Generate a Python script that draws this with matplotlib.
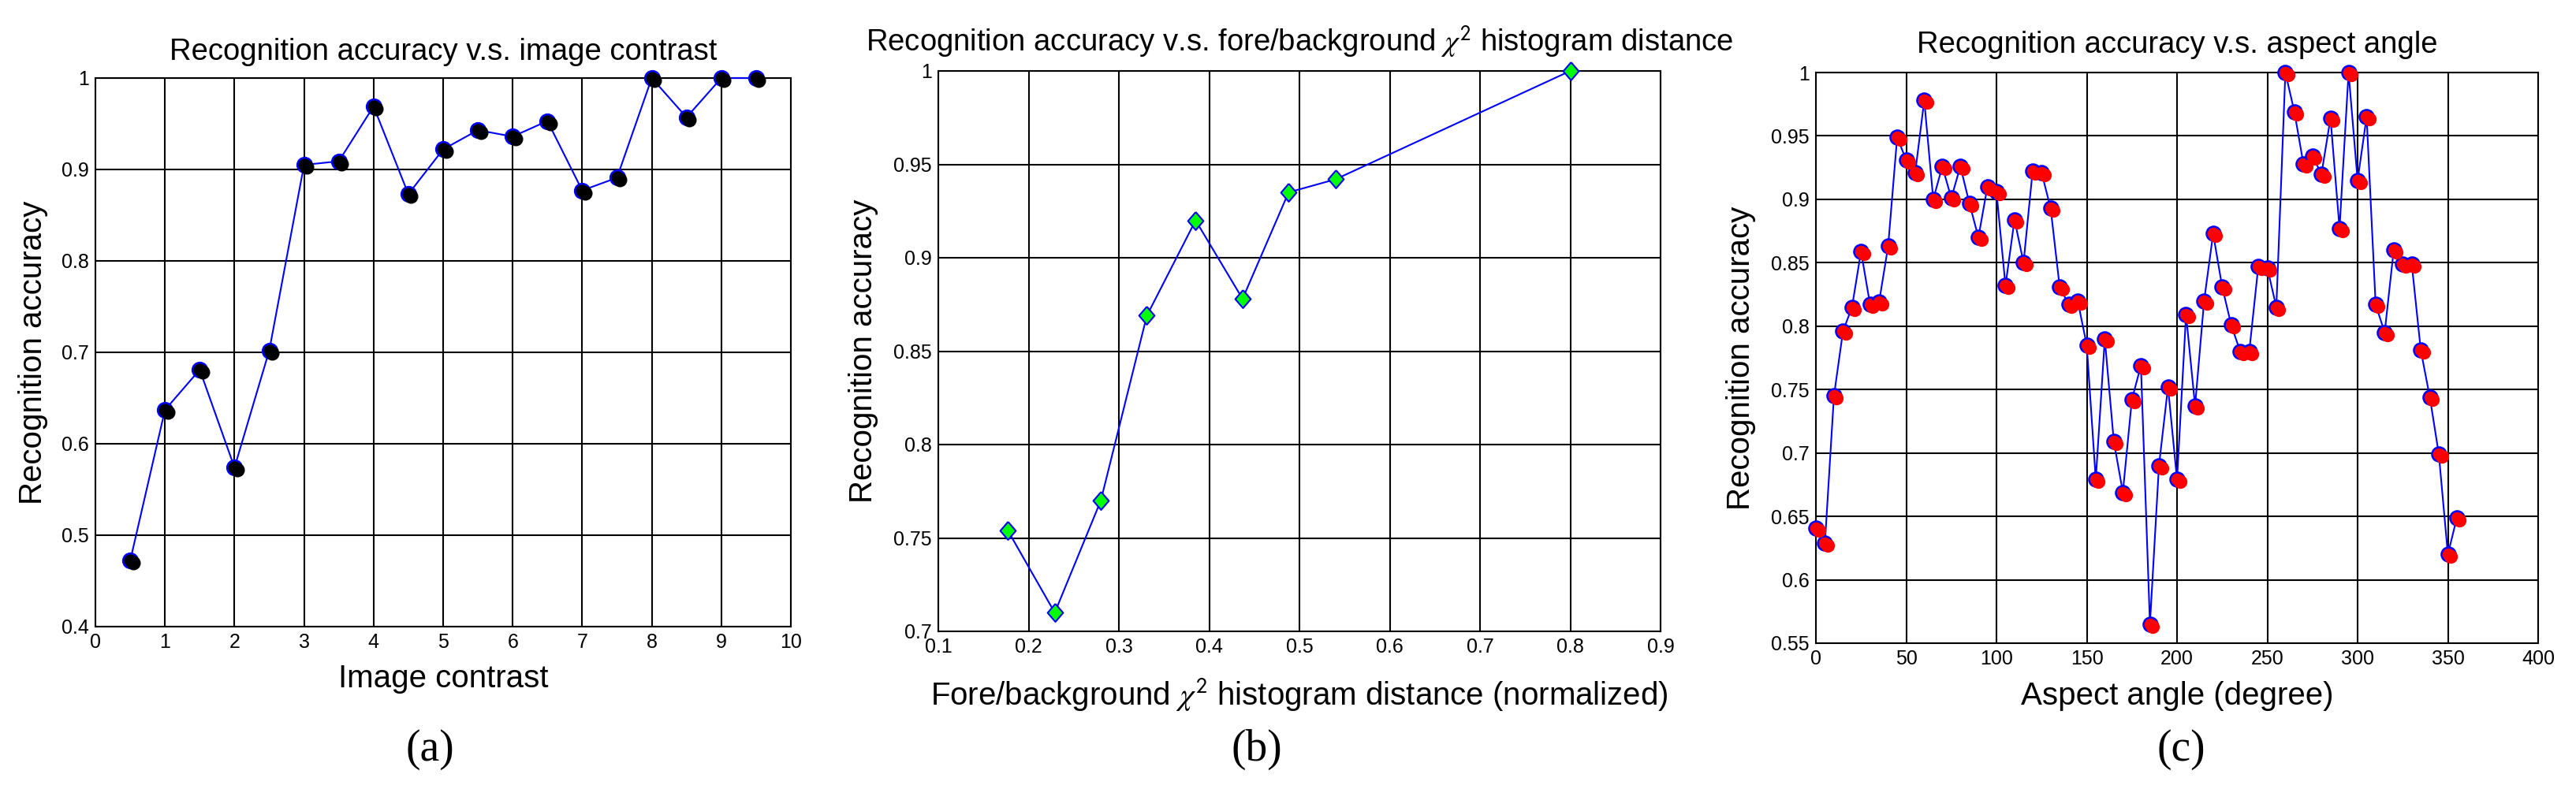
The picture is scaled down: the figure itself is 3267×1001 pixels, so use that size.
import matplotlib
matplotlib.use('Agg')
import matplotlib.pyplot as plt
from matplotlib.transforms import ScaledTranslation

plt.rcParams['font.family'] = ['Liberation Sans', 'DejaVu Sans']
plt.rcParams['mathtext.fontset'] = 'stix'

# ---------------- data ----------------
contrast_x = [0.5, 1.0, 1.5, 2.0, 2.5, 3.0, 3.5, 4.0, 4.5, 5.0,
              5.5, 6.0, 6.5, 7.0, 7.5, 8.0, 8.5, 9.0, 9.5]
contrast_acc = [0.472, 0.637, 0.681, 0.574, 0.702, 0.905, 0.909, 0.969, 0.873, 0.922,
                0.943, 0.936, 0.953, 0.877, 0.891, 1.000, 0.957, 1.000, 1.000]

hist_dist = [0.177, 0.229, 0.280, 0.331, 0.385, 0.437, 0.488, 0.540, 0.800]
hist_acc = [0.754, 0.710, 0.770, 0.869, 0.920, 0.878, 0.935, 0.942, 1.000]

angle_deg = [0, 5, 10, 15, 20, 25, 30, 35, 40, 45,
             50, 55, 60, 65, 70, 75, 80, 85, 90, 95,
             100, 105, 110, 115, 120, 125, 130, 135, 140, 145,
             150, 155, 160, 165, 170, 175, 180, 185, 190, 195,
             200, 205, 210, 215, 220, 225, 230, 235, 240, 245,
             250, 255, 260, 265, 270, 275, 280, 285, 290, 295,
             300, 305, 310, 315, 320, 325, 330, 335, 340, 345,
             350, 355]
angle_acc = [0.641, 0.629, 0.745, 0.796, 0.815, 0.859, 0.817, 0.819, 0.863, 0.949,
             0.931, 0.921, 0.978, 0.900, 0.926, 0.901, 0.926, 0.897, 0.870, 0.910,
             0.906, 0.832, 0.884, 0.850, 0.922, 0.921, 0.893, 0.831, 0.817, 0.820,
             0.785, 0.679, 0.790, 0.709, 0.669, 0.742, 0.769, 0.565, 0.690, 0.752,
             0.679, 0.809, 0.737, 0.820, 0.873, 0.831, 0.801, 0.780, 0.780, 0.847,
             0.846, 0.815, 1.000, 0.969, 0.928, 0.934, 0.920, 0.964, 0.877, 1.000,
             0.915, 0.965, 0.817, 0.795, 0.860, 0.849, 0.849, 0.781, 0.744, 0.699,
             0.620, 0.649]

a_xticks = [0, 1, 2, 3, 4, 5, 6, 7, 8, 9, 10]
a_yticks = [0.4, 0.5, 0.6, 0.7, 0.8, 0.9, 1.0]
a_ylabels = ['0.4', '0.5', '0.6', '0.7', '0.8', '0.9', '1']

b_xticks = [0.1, 0.2, 0.3, 0.4, 0.5, 0.6, 0.7, 0.8, 0.9]
b_xlabels = ['0.1', '0.2', '0.3', '0.4', '0.5', '0.6', '0.7', '0.8', '0.9']
b_yticks = [0.7, 0.75, 0.8, 0.85, 0.9, 0.95, 1.0]
b_ylabels = ['0.7', '0.75', '0.8', '0.85', '0.9', '0.95', '1']

c_xticks = [0, 50, 100, 150, 200, 250, 300, 350, 400]
c_yticks = [0.55, 0.6, 0.65, 0.7, 0.75, 0.8, 0.85, 0.9, 0.95, 1.0]
c_ylabels = ['0.55', '0.6', '0.65', '0.7', '0.75', '0.8', '0.85', '0.9', '0.95', '1']

# ---------------- figure ----------------
W, H = 3267, 1001
fig = plt.figure(figsize=(W / 100, H / 100), dpi=100)


def rect(l, t, r, b):
    return [l / W, (H - b) / H, (r - l) / W, (b - t) / H]


axA = fig.add_axes(rect(121, 99, 1003, 795))
axB = fig.add_axes(rect(1190, 90, 2106, 801))
axC = fig.add_axes(rect(2303, 92, 3219, 816))

TICK_FS = 18
LAB_FS = 29
TIT_FS = 27.5
shadow = ScaledTranslation(3.5 / 100, -3 / 100, fig.dpi_scale_trans)

for ax in (axA, axB, axC):
    ax.grid(True, color='black', linewidth=1.5, linestyle='-')
    ax.set_axisbelow(True)
    ax.tick_params(direction='in', length=0, pad=6, labelsize=TICK_FS, colors='black')
    for s in ax.spines.values():
        s.set_linewidth(1.5)
        s.set_color('black')

# ---- (a) ----
axA.plot(contrast_x, contrast_acc, '-', color='blue', lw=1.5, marker='o', ms=13.5,
         mfc='black', mec='blue', mew=1.8, clip_on=False, zorder=3)
axA.plot(contrast_x, contrast_acc, 'o', color='black', ms=13, mec='none',
         transform=axA.transData + shadow, clip_on=False, zorder=4)
axA.set_xlim(0, 10)
axA.set_ylim(0.4, 1.0)
axA.set_xticks(a_xticks)
axA.set_yticks(a_yticks)
axA.set_yticklabels(a_ylabels)
axA.set_title('Recognition accuracy v.s. image contrast', fontsize=TIT_FS, pad=16.5)
axA.set_xlabel('Image contrast', fontsize=LAB_FS, va='baseline')
axA.set_ylabel('Recognition accuracy', fontsize=LAB_FS, va='baseline')
axA.xaxis.set_label_coords(0.5, -(872 - 795) / 696)
axA.yaxis.set_label_coords((53 - 121) / 882, 0.5)

# ---- (b) ----
diamond = [(0, 0.5), (0.43, 0), (0, -0.5), (-0.43, 0), (0, 0.5)]
axB.plot(hist_dist, hist_acc, '-', color='blue', lw=1.5, marker=diamond, ms=16.5,
         mfc='#00ff00', mec='blue', mew=1.5, clip_on=False, zorder=3)
axB.set_xlim(0.1, 0.9)
axB.set_ylim(0.7, 1.0)
axB.set_xticks(b_xticks)
axB.set_xticklabels(b_xlabels)
axB.set_yticks(b_yticks)
axB.set_yticklabels(b_ylabels)
axB.set_title(r'Recognition accuracy v.s. fore/background $\chi^{\mathsf{2}}$ histogram distance',
              fontsize=TIT_FS, pad=18)
axB.set_xlabel(r'Fore/background $\chi^{\mathsf{2}}$ histogram distance (normalized)',
               fontsize=LAB_FS, va='baseline')
axB.set_ylabel('Recognition accuracy', fontsize=LAB_FS, va='baseline')
axB.xaxis.set_label_coords(0.5, -(894 - 801) / 711)
axB.yaxis.set_label_coords((1106 - 1190) / 916, 0.5)

# ---- (c) ----
axC.plot(angle_deg, angle_acc, '-', color='blue', lw=1.5, marker='o', ms=13,
         mfc='red', mec='blue', mew=1.8, clip_on=False, zorder=3)
axC.plot(angle_deg, angle_acc, 'o', color='red', ms=12.5, mec='none',
         transform=axC.transData + shadow, clip_on=False, zorder=4)
axC.set_xlim(0, 400)
axC.set_ylim(0.55, 1.0)
axC.set_xticks(c_xticks)
axC.set_yticks(c_yticks)
axC.set_yticklabels(c_ylabels)
axC.set_title('Recognition accuracy v.s. aspect angle', fontsize=TIT_FS, pad=18)
axC.set_xlabel('Aspect angle (degree)', fontsize=LAB_FS, va='baseline')
axC.set_ylabel('Recognition accuracy', fontsize=LAB_FS, va='baseline')
axC.xaxis.set_label_coords(0.5, -(894 - 816) / 724)
axC.yaxis.set_label_coords((2219 - 2303) / 916, 0.5)

# ---- panel letters ----
for lab, xc in (('(a)', 545), ('(b)', 1594), ('(c)', 2766)):
    fig.text(xc / W, (H - 951) / H, lab, fontsize=40, ha='center', va='center',
             family=['Liberation Serif', 'DejaVu Serif'])

fig.savefig('out.png', dpi=100, facecolor='white')
